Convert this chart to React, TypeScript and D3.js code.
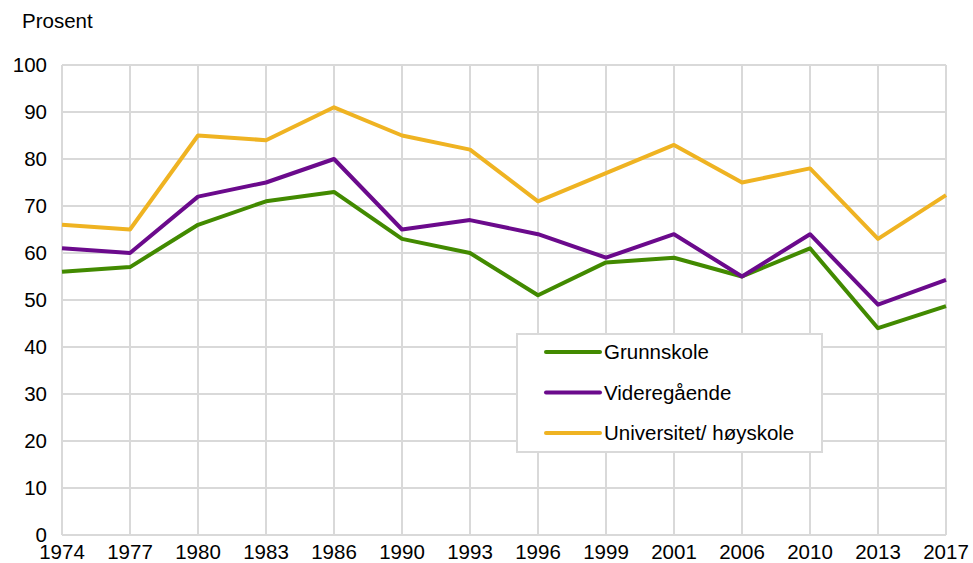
import React, { useEffect, useRef } from 'react'
import * as d3 from 'd3'

// chart values
const years = ['1974', '1977', '1980', '1983', '1986', '1990', '1993', '1996', '1999', '2001', '2006', '2010', '2013', '2017']
const grunnskole = [56, 57, 66, 71, 73, 63, 60, 51, 58, 59, 55, 61, 44, 48.7]
const videregaende = [61, 60, 72, 75, 80, 65, 67, 64, 59, 64, 55, 64, 49, 54.3]
const universitet = [66, 65, 85, 84, 91, 85, 82, 71, 77, 83, 75, 78, 63, 72.3]
const yTicks = [0, 10, 20, 30, 40, 50, 60, 70, 80, 90, 100]

const seriesNames = ['Grunnskole', 'Videregående', 'Universitet/ høyskole']
const seriesColors = ['#428a00', '#6b0a8c', '#efb322']

function App() {
  const ref = useRef<SVGSVGElement>(null)

  useEffect(() => {
    const svg = d3.select(ref.current)
    svg.selectAll('*').remove()

    const margin = { left: 62, right: 27, top: 65, bottom: 28 }
    const width = 973 - margin.left - margin.right
    const height = 563 - margin.top - margin.bottom
    const font = '"Liberation Sans", Arial, sans-serif'
    const fs = 20.5

    const x = d3.scalePoint<string>().domain(years).range([0, width])
    const y = d3.scaleLinear().domain([0, 100]).range([height, 0])

    const g = svg.append('g').attr('transform', 'translate(' + margin.left + ',' + margin.top + ')')

    // grid
    g.selectAll('.hgrid')
      .data(yTicks)
      .enter()
      .append('line')
      .attr('x1', 0)
      .attr('x2', width)
      .attr('y1', d => y(d))
      .attr('y2', d => y(d))
      .attr('stroke', '#d9d9d9')
      .attr('stroke-width', 2)
    g.selectAll('.vgrid')
      .data(years)
      .enter()
      .append('line')
      .attr('x1', d => x(d)!)
      .attr('x2', d => x(d)!)
      .attr('y1', 0)
      .attr('y2', height)
      .attr('stroke', '#d9d9d9')
      .attr('stroke-width', 2)

    // y labels
    g.selectAll('.ylab')
      .data(yTicks)
      .enter()
      .append('text')
      .attr('x', -15)
      .attr('y', d => y(d) + 7)
      .attr('text-anchor', 'end')
      .attr('font-family', font)
      .attr('font-size', fs)
      .attr('fill', '#000')
      .text(d => d)

    // x labels
    g.selectAll('.xlab')
      .data(years)
      .enter()
      .append('text')
      .attr('x', d => x(d)!)
      .attr('y', height + 24)
      .attr('text-anchor', 'middle')
      .attr('font-family', font)
      .attr('font-size', fs)
      .attr('fill', '#000')
      .text(d => d)

    svg.append('text')
      .attr('x', 22)
      .attr('y', 28)
      .attr('font-family', font)
      .attr('font-size', fs)
      .attr('fill', '#000')
      .text('Prosent')

    const all = [grunnskole, videregaende, universitet]
    const line = d3.line<number>()
      .x((d, i) => x(years[i])!)
      .y(d => y(d))

    all.forEach((vals, i) => {
      g.append('path')
        .datum(vals)
        .attr('fill', 'none')
        .attr('stroke', seriesColors[i])
        .attr('stroke-width', 4)
        .attr('stroke-linejoin', 'round')
        .attr('d', line)
    })

    // legend
    const lg = svg.append('g').attr('transform', 'translate(517,334)')
    lg.append('rect')
      .attr('x', 0)
      .attr('y', 0)
      .attr('width', 305)
      .attr('height', 118)
      .attr('fill', '#fff')
      .attr('stroke', '#d9d9d9')
      .attr('stroke-width', 2)
    seriesNames.forEach((name, i) => {
      const ly = 18 + i * 40.5
      lg.append('line')
        .attr('x1', 29)
        .attr('x2', 83)
        .attr('y1', ly)
        .attr('y2', ly)
        .attr('stroke', seriesColors[i])
        .attr('stroke-width', 4)
        .attr('stroke-linecap', 'round')
      lg.append('text')
        .attr('x', 87)
        .attr('y', ly + 7)
        .attr('font-family', font)
        .attr('font-size', fs)
        .attr('fill', '#000')
        .text(name)
    })
  }, [])

  return <svg ref={ref} width={973} height={563} style={{ position: 'absolute', left: 0, top: 0 }} />
}

export default App
